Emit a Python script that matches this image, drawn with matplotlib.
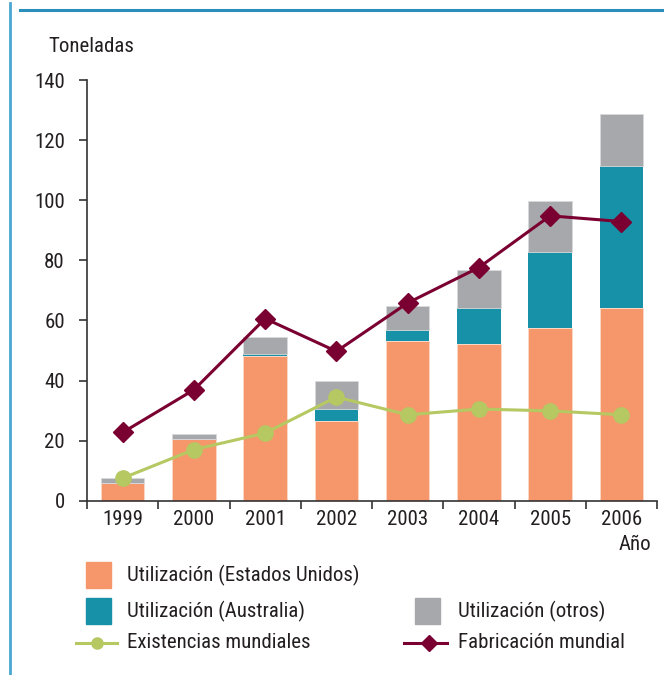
import matplotlib
matplotlib.use("Agg")
import matplotlib.pyplot as plt
from matplotlib.lines import Line2D
from matplotlib.patches import Rectangle
import numpy as np

years = ["1999", "2000", "2001", "2002", "2003", "2004", "2005", "2006"]
uso_eeuu = [5.8, 20.4, 48.0, 26.6, 53.3, 52.1, 57.5, 64.1]
uso_australia = [0.0, 0.0, 0.9, 3.9, 3.6, 12.0, 25.1, 47.2]
uso_otros = [1.7, 1.8, 5.6, 9.2, 7.8, 12.8, 17.3, 17.3]
existencias = [7.5, 17.0, 22.5, 34.5, 28.6, 30.5, 29.9, 28.6]
fabricacion = [22.7, 36.9, 60.6, 49.7, 65.8, 77.6, 94.8, 92.9]
y_ticks = [0, 20, 40, 60, 80, 100, 120, 140]

C_US = "#F5976B"
C_AU = "#1791A8"
C_OT = "#A7A8AB"
C_GR = "#B5C862"
C_MA = "#7B0032"
TXT = "#231F20"
FS = 15

plt.rcParams['font.family'] = ['Roboto Condensed', 'Archivo Narrow', 'DejaVu Sans']

fig = plt.figure(figsize=(6.64, 6.75), dpi=100)
ax = fig.add_axes([87/664, 1-500.7/675, (657-87)/664, (500.7-80)/675])

x = np.arange(len(years))
w = 0.61
us = np.array(uso_eeuu); au = np.array(uso_australia); ot = np.array(uso_otros)
ax.bar(x, us, w, color=C_US, edgecolor="#FBD9C8", linewidth=0.6, zorder=2)
ax.bar(x, au, w, bottom=us, color=C_AU, edgecolor="none", zorder=2)
ax.bar(x, ot, w, bottom=us+au, color=C_OT, edgecolor="#D8D9DA", linewidth=0.6, zorder=2)

ax.plot(x, existencias, color=C_GR, lw=2.2, marker='o', ms=11, zorder=4)
ax.plot(x, fabricacion, color=C_MA, lw=2.2, marker='D', ms=10, zorder=5)

ax.set_xlim(-0.5, 7.5)
ax.set_ylim(0, 140)
ax.set_yticks(y_ticks)
ax.set_yticklabels([str(v) for v in y_ticks])
ax.set_xticks(np.arange(-0.5, 8, 1.0))
ax.set_xticklabels([])
ax.set_xticks(x, minor=True)
ax.set_xticklabels(years, minor=True)
ax.tick_params(axis='x', which='minor', length=0, pad=7, labelsize=FS, colors=TXT)
ax.tick_params(axis='x', which='major', length=6, width=1.2, direction='out', color="#333333")
ax.tick_params(axis='y', length=6, width=1.2, direction='out', color="#333333",
               labelsize=FS, labelcolor=TXT, pad=10)
for s in ['top', 'right']:
    ax.spines[s].set_visible(False)
for s in ['left', 'bottom']:
    ax.spines[s].set_color("#333333")
    ax.spines[s].set_linewidth(1.2)

fig.text(48/664, 1-46/675, "Toneladas", fontsize=FS, color=TXT, va='center', ha='left')
fig.text(651/664, 1-545/675, "Año", fontsize=FS, color=TXT, va='center', ha='right')

# frame lines
fig.add_artist(Line2D([20/664, 1], [1-10/675, 1-10/675], color="#2A8FBC", lw=2.2))
fig.add_artist(Line2D([10/664, 10/664], [0, 1-3/675], color="#4AA6D2", lw=2.0))

# legend
def patch(px, py, c):
    fig.add_artist(Rectangle((px/664, 1-(py+13)/675), 25/664, 26/675,
                             color=c, transform=fig.transFigure))

def label(px, py, t):
    fig.text(px/664, 1-py/675, t, fontsize=FS, color=TXT, va='center', ha='left')

rows = [575, 611, 643]
patch(86, rows[0], C_US); label(127, rows[0], "Utilización (Estados Unidos)")
patch(86, rows[1], C_AU); label(127, rows[1], "Utilización (Australia)")
patch(415, rows[1], C_OT); label(458, rows[1], "Utilización (otros)")
fig.add_artist(Line2D([76/664, 117/664], [1-rows[2]/675]*2, color=C_GR, lw=2.2,
                      transform=fig.transFigure))
fig.add_artist(Line2D([97/664], [1-rows[2]/675], color=C_GR, marker='o', ms=8, lw=0,
                      transform=fig.transFigure))
label(127, rows[2], "Existencias mundiales")
fig.add_artist(Line2D([404/664, 447/664], [1-rows[2]/675]*2, color=C_MA, lw=2.2,
                      transform=fig.transFigure))
fig.add_artist(Line2D([429/664], [1-rows[2]/675], color=C_MA, marker='D', ms=8, lw=0,
                      transform=fig.transFigure))
label(458, rows[2], "Fabricación mundial")

fig.savefig("out.png", dpi=100)
